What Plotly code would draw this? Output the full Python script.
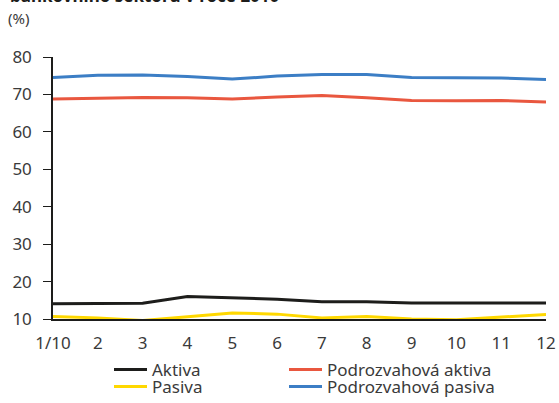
import plotly.graph_objects as go

months = ["1/10", "2", "3", "4", "5", "6", "7", "8", "9", "10", "11", "12"]
aktiva = [14.1, 14.2, 14.2, 16.0, 15.6, 15.3, 14.6, 14.6, 14.3, 14.3, 14.2, 14.3]
pasiva = [10.7, 10.3, 9.6, 10.6, 11.6, 11.3, 10.3, 10.7, 10.0, 9.8, 10.5, 11.2]
podroz_aktiva = [68.8, 69.0, 69.2, 69.1, 68.8, 69.3, 69.7, 69.1, 68.4, 68.3, 68.4, 68.0]
podroz_pasiva = [74.5, 75.1, 75.2, 74.8, 74.1, 74.9, 75.3, 75.3, 74.5, 74.5, 74.4, 74.0]

x = list(range(len(months)))
font = "Noto Sans, Open Sans, sans-serif"
txt = "#3a3a3a"

fig = go.Figure()
fig.add_trace(go.Scatter(x=x, y=aktiva, name="Aktiva", mode="lines", legend="legend",
                         line=dict(color="#1d1d1b", width=3), cliponaxis=False))
fig.add_trace(go.Scatter(x=x, y=podroz_aktiva, name="Podrozvahová aktiva", mode="lines",
                         legend="legend2", line=dict(color="#e9573f", width=3), cliponaxis=False))
fig.add_trace(go.Scatter(x=x, y=pasiva, name="Pasiva", mode="lines", legend="legend3",
                         line=dict(color="#ffd800", width=3), cliponaxis=False))
fig.add_trace(go.Scatter(x=x, y=podroz_pasiva, name="Podrozvahová pasiva", mode="lines",
                         legend="legend4", line=dict(color="#3c7ec5", width=3), cliponaxis=False))

leg_common = dict(orientation="h", xref="container", yref="container", xanchor="left",
                  yanchor="middle", itemwidth=33,
                  font=dict(family=font, size=17, color=txt), bgcolor="rgba(0,0,0,0)",
                  borderwidth=0, tracegroupgap=0)
col1, col2 = 109, 284
row1, row2 = 370, 387

fig.update_layout(
    width=559, height=403,
    margin=dict(l=53, r=13, t=57, b=84, autoexpand=False),
    plot_bgcolor="white", paper_bgcolor="white",
    font=dict(family=font, size=17, color=txt),
    showlegend=True,
    legend=dict(x=col1 / 559, y=1 - row1 / 403, **leg_common),
    legend2=dict(x=col2 / 559, y=1 - row1 / 403, **leg_common),
    legend3=dict(x=col1 / 559, y=1 - row2 / 403, **leg_common),
    legend4=dict(x=col2 / 559, y=1 - row2 / 403, **leg_common),
    xaxis=dict(tickmode="array", tickvals=x, ticktext=months, range=[0, 11],
               showgrid=False, zeroline=False, showline=True, linecolor="#1d1d1b",
               linewidth=1.5, ticks="", ticklabelstandoff=8, automargin=False,
               tickfont=dict(size=17, color=txt)),
    yaxis=dict(range=[10, 80], tickvals=[10, 20, 30, 40, 50, 60, 70, 80],
               showgrid=False, zeroline=False, showline=True, linecolor="#1d1d1b",
               linewidth=1.5, ticks="outside", ticklen=8, tickcolor="#1d1d1b",
               ticklabelstandoff=8, automargin=False,
               tickfont=dict(size=17, color=txt)),
    annotations=[
        dict(text="bankovního sektoru v roce 2010", xref="paper", yref="paper",
             x=-45 / 493, y=1.182, xanchor="left", yanchor="bottom", showarrow=False,
             font=dict(family=font, size=17, color="#1d1d1b", weight="bold")),
        dict(text="(%)", xref="paper", yref="paper", x=-47 / 493, y=(319 - 17.5) / 262,
             xanchor="left", yanchor="middle", showarrow=False,
             font=dict(family=font, size=15, color=txt)),
    ],
)

fig.write_html("out.html", config={"displayModeBar": False},
               post_script="document.body.style.margin='0';")
